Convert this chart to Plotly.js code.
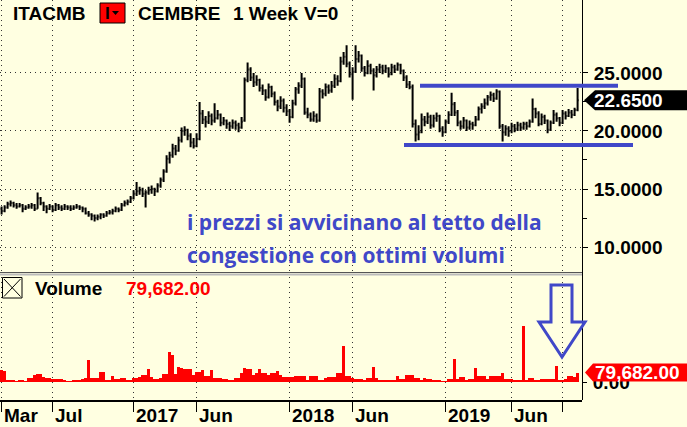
<!DOCTYPE html>
<html><head><meta charset="utf-8">
<script src="https://cdn.plot.ly/plotly-3.0.1.min.js"></script>
<style>html,body{margin:0;padding:0;background:#FFFFE1;}#chart{width:687px;height:427px;}</style>
</head><body><div id="chart"></div>
<script>
// ---------- DATA ----------
const START = '2016-02-29'; // first weekly bar
const OPEN = [13.3,13.1,13.4,13.7,13.8,13.6,13.5,13.6,13.3,13.4,
13.5,13.6,13.3,14.2,13.8,13.5,13.3,13.5,13.2,13.6,
13.4,13.3,13.5,13.4,13.3,13.4,13.5,13.4,13.3,12.9,
12.8,12.7,12.5,12.6,12.8,12.7,12.9,13.0,13.1,13.3,
13.2,13.6,13.8,13.9,14.2,14.6,14.8,14.9,14.6,14.7,
14.9,15.0,14.8,15.3,15.8,16.5,17.6,17.9,18.5,18.3,
19.2,20.0,20.1,19.6,19.0,18.7,19.3,21.5,21.0,20.8,
21.3,20.9,21.1,21.4,20.7,20.9,20.6,20.4,20.7,20.5,
20.3,20.9,24.4,25.3,24.6,24.2,24.4,23.7,23.5,22.9,
23.8,23.2,22.5,22.1,22.6,22.0,21.7,21.2,22.4,23.6,
23.9,24.5,21.6,21.4,21.0,21.3,20.9,23.4,23.2,23.8,
23.5,23.9,24.5,24.3,26.0,26.4,25.8,24.9,25.1,26.2,
26.5,25.4,25.0,25.6,25.2,24.8,25.3,25.5,25.2,25.4,
24.9,25.5,25.3,25.7,25.2,24.6,24.0,23.8,20.6,19.7,
19.9,21.0,20.8,21.2,20.5,21.1,21.3,20.2,19.9,20.8,
21.4,22.3,21.6,20.7,20.4,20.9,20.3,20.6,20.5,21.0,
21.9,22.1,22.4,22.9,23.1,22.8,23.4,20.4,19.9,20.2,
20.0,20.4,20.2,20.5,20.3,20.6,20.4,20.8,21.9,21.5,
20.6,21.2,20.9,20.1,20.7,21.4,21.1,20.7,21.5,21.3,
21.6,21.4,21.8];
const HIGH = [13.5,13.6,13.9,14.0,13.9,13.8,13.8,13.7,13.6,13.7,
13.8,13.7,14.7,14.3,13.9,13.6,13.7,13.6,13.8,13.7,
13.6,13.7,13.6,13.6,13.6,13.7,13.6,13.5,13.4,13.1,
12.9,12.8,12.8,12.9,12.9,13.1,13.2,13.3,13.5,13.4,
13.8,14.0,14.1,14.4,14.9,15.6,15.2,15.1,14.9,15.2,
15.3,15.1,15.5,16.0,16.7,17.9,18.2,18.9,18.8,19.5,
20.3,20.4,20.2,19.8,19.4,19.8,22.5,21.8,21.3,21.7,
21.5,22.4,21.8,21.5,21.2,21.0,20.8,21.0,20.9,20.7,
21.2,24.6,25.9,25.5,25.0,24.8,24.5,24.0,23.6,24.1,
23.9,23.4,22.7,23.0,22.8,22.3,21.9,22.7,23.8,24.2,
25.0,24.6,22.0,21.6,21.7,21.5,23.7,23.6,24.1,24.0,
24.3,24.9,24.8,26.4,26.8,27.4,26.0,25.5,27.4,26.9,
26.6,25.6,26.1,25.8,25.4,25.6,25.8,25.7,25.7,25.5,
25.8,25.7,25.9,25.8,25.3,24.8,24.3,24.0,21.0,20.5,
21.5,21.3,21.6,21.4,21.4,21.6,21.4,20.4,21.0,21.7,
23.3,22.5,21.8,20.9,21.2,21.0,20.9,20.8,21.3,22.1,
22.4,22.8,23.1,23.4,23.3,23.6,23.5,20.6,20.5,20.4,
20.7,20.6,20.8,20.7,20.8,20.8,21.0,22.8,22.0,21.7,
21.5,21.4,21.0,20.9,21.8,21.6,21.2,21.8,21.7,21.9,
21.8,22.0,23.7];
const LOW = [12.8,13.0,13.3,13.5,13.4,13.3,13.4,13.0,13.2,13.3,
13.3,13.1,13.3,13.6,13.1,12.9,13.2,13.0,13.1,13.2,
13.1,13.2,13.2,13.1,13.2,13.3,13.2,13.0,12.8,12.6,
12.3,12.2,12.3,12.4,12.5,12.6,12.8,12.8,13.0,13.0,
13.1,13.5,13.6,13.8,14.1,14.4,14.5,14.3,13.4,14.5,
14.6,14.4,14.7,15.1,15.6,16.4,17.2,17.7,17.9,18.2,
19.0,19.6,19.2,18.6,18.5,18.6,19.2,20.6,20.3,20.6,
20.5,20.7,21.0,20.4,20.5,20.2,20.0,20.2,20.1,19.9,
20.2,20.8,24.2,24.3,23.8,23.9,23.4,23.1,22.6,22.8,
22.9,22.2,21.7,21.9,21.6,21.3,20.7,21.1,22.2,23.2,
23.7,21.4,21.1,20.8,20.8,20.7,20.8,22.8,23.0,23.2,
23.3,23.7,23.9,24.2,25.7,25.5,24.6,22.7,25.0,25.9,
25.1,24.7,24.9,24.9,23.5,24.6,25.0,24.9,25.0,24.6,
24.8,25.0,25.2,24.9,24.3,23.7,23.6,20.3,19.1,19.2,
19.8,20.4,20.6,20.2,20.3,20.8,19.9,19.5,19.8,20.6,
21.3,21.3,20.4,20.1,20.2,20.0,20.1,20.1,20.4,20.9,
21.5,21.9,22.2,22.6,22.5,22.7,20.2,19.1,19.6,19.5,
19.8,19.9,20.0,20.0,20.1,20.1,20.3,20.7,21.1,20.4,
20.5,20.6,19.8,20.0,20.6,20.8,20.4,20.6,21.0,21.2,
21.1,21.3,21.7];
const CLOSE = [13.1,13.4,13.7,13.8,13.6,13.5,13.6,13.3,13.4,13.5,
13.6,13.3,14.2,13.8,13.5,13.3,13.5,13.2,13.6,13.4,
13.3,13.5,13.4,13.3,13.4,13.5,13.4,13.3,12.9,12.8,
12.7,12.5,12.6,12.8,12.7,12.9,13.0,13.1,13.3,13.2,
13.6,13.8,13.9,14.2,14.6,14.8,14.9,14.6,14.7,14.9,
15.0,14.8,15.3,15.8,16.5,17.6,17.9,18.5,18.3,19.2,
20.0,20.1,19.6,19.0,18.7,19.3,21.5,21.0,20.8,21.3,
20.9,21.1,21.4,20.7,20.9,20.6,20.4,20.7,20.5,20.3,
20.8,24.4,25.3,24.6,24.2,24.4,23.7,23.5,22.9,23.8,
23.2,22.5,22.1,22.6,22.0,21.7,21.2,22.4,23.6,23.9,
24.5,21.6,21.4,21.0,21.3,20.9,23.4,23.2,23.8,23.5,
23.9,24.5,24.3,26.0,26.4,25.8,24.9,25.1,26.2,26.5,
25.4,25.0,25.6,25.2,24.8,25.3,25.5,25.2,25.4,24.9,
25.5,25.3,25.7,25.2,24.6,24.0,23.8,20.6,19.7,19.9,
21.0,20.8,21.2,20.5,21.1,21.3,20.2,19.9,20.8,21.4,
22.3,21.6,20.7,20.4,20.9,20.3,20.6,20.5,21.0,21.9,
22.1,22.4,22.9,23.1,22.8,23.4,20.4,19.9,20.2,20.0,
20.4,20.2,20.5,20.3,20.6,20.4,20.8,21.9,21.5,20.6,
21.2,20.9,20.1,20.7,21.4,21.1,20.7,21.5,21.3,21.6,
21.4,21.8,22.65];
const VOLUME = [98000,96000,14000,13000,14000,12000,20000,20000,8000,34000,
34000,56000,64000,64000,42000,31000,31000,22000,22000,22000,
22000,14000,8000,8000,14000,14000,14000,22000,30000,182000,
31000,31000,31000,81000,81000,14000,14000,48000,25000,25000,
31000,31000,14000,14000,31000,31000,39000,56000,56000,106000,
39000,25000,25000,31000,64000,64000,250000,224000,67000,123000,
117000,112000,106000,106000,56000,81000,81000,98000,53000,53000,
98000,36000,36000,36000,22000,22000,14000,14000,34000,34000,
76000,115000,106000,106000,56000,76000,106000,76000,76000,56000,
76000,76000,92000,56000,39000,39000,39000,39000,48000,48000,
48000,48000,14000,48000,48000,48000,14000,14000,31000,39000,
39000,39000,76000,76000,302000,48000,48000,36000,28000,28000,
28000,14000,31000,31000,123000,31000,14000,14000,14000,20000,
20000,20000,48000,25000,25000,56000,56000,56000,34000,34000,
14000,31000,25000,25000,14000,14000,14000,8000,8000,25000,
25000,190000,28000,39000,39000,14000,25000,25000,115000,48000,
48000,53000,28000,53000,53000,53000,53000,76000,22000,22000,
22000,14000,14000,14000,467000,14000,31000,31000,20000,20000,
22000,22000,22000,22000,22000,134000,14000,14000,25000,48000,
48000,40000,79682];
const TICK_DATES = ['2016-02-29','2016-06-27','2017-01-02','2017-05-29','2018-01-01','2018-05-28','2018-12-31','2019-06-03','2019-09-30'];
const TICK_LABELS = ['Mar','Jul','2017','Jun','2018','Jun','2019','Jun',''];
const PRICE_TICKS = [10, 15, 20, 25];
const PRICE_MINOR = [12.5, 17.5, 22.5];
const RESISTANCE = 23.9;
const SUPPORT = 18.8;
const TICKER = 'ITACMB', NAME = 'CEMBRE', PERIOD = '1 Week', VFLAG = 'V=0';
const NOTE = ['i prezzi si avvicinano al tetto della', 'congestione con ottimi volumi'];

// ---------- LAYOUT HELPERS ----------
const W = 687, H = 427;
const BG = '#FFFFE1', BLUE = '#4048C8', RED = '#FF0000';
const FONT = 'Liberation Sans, Arial, sans-serif';
const NOTE_FONT = {family: 'Open Sans, sans-serif', size: 21, color: BLUE, weight: 'bold'};
const px = x => x / W, py = y => 1 - y / H;
const WEEK = 7 * 864e5;
const t0 = Date.parse(START + 'T00:00:00Z');
const fmt = ms => new Date(ms).toISOString().slice(0, 19).replace('T', ' ');
const dates = CLOSE.map((_, i) => fmt(t0 + i * WEEK).slice(0, 10));
const xRange = [fmt(t0 - 0.533 * WEEK), fmt(t0 + 193.47 * WEEK)];
const PR = [7.76, 31.29], PD = [py(273), py(0)];
const VR = [-151200, 882000], VD = [py(400), py(277)];
const priceToPx = v => (1 - (PD[0] + (v - PR[0]) / (PR[1] - PR[0]) * (PD[1] - PD[0]))) * H;
const volToPx = v => (1 - (VD[0] + (v - VR[0]) / (VR[1] - VR[0]) * (VD[1] - VD[0]))) * H;
const path = pts => 'M' + pts.map(([x, y]) => px(x) + ',' + py(y)).join('L') + 'Z';
const bold = (size, color) => ({family: FONT, size: size, color: color || '#000', weight: 'bold'});
const grid = {showgrid: true, gridcolor: '#333', gridwidth: 1, griddash: '1px,4px'};

const lastClose = CLOSE[CLOSE.length - 1];
const lastVol = VOLUME[VOLUME.length - 1];
const volText = lastVol.toLocaleString('en-US', {minimumFractionDigits: 2, maximumFractionDigits: 2});

const traces = [
  {type: 'ohlc', x: dates, open: OPEN, high: HIGH, low: LOW, close: CLOSE, xaxis: 'x', yaxis: 'y',
   increasing: {line: {color: '#000', width: 2}}, decreasing: {line: {color: '#000', width: 2}},
   tickwidth: 0.4, hoverinfo: 'skip'},
  {type: 'bar', x: dates, y: VOLUME, xaxis: 'x', yaxis: 'y2',
   marker: {color: RED, line: {width: 0}}, hoverinfo: 'skip'}
];

const pc = priceToPx(lastClose), vc = volToPx(lastVol);
const rY = priceToPx(RESISTANCE), sY = priceToPx(SUPPORT);

const shapes = [
  {type: 'line', xref: 'paper', yref: 'paper', x0: 0, x1: px(582), y0: py(272.5), y1: py(272.5), line: {color: '#555', width: 1}},
  {type: 'line', xref: 'paper', yref: 'paper', x0: 0, x1: px(582), y0: py(274.5), y1: py(274.5), line: {color: '#bbb', width: 2}},
  {type: 'line', xref: 'paper', yref: 'paper', x0: px(582.5), x1: px(582.5), y0: py(0), y1: py(400), line: {color: '#000', width: 1}},
  {type: 'rect', xref: 'paper', yref: 'paper', x0: px(100), x1: px(125), y0: py(3), y1: py(23), fillcolor: RED, line: {color: '#000', width: 1}},
  {type: 'path', xref: 'paper', yref: 'paper', path: path([[112, 11], [119, 11], [115.5, 15]]), fillcolor: '#000', line: {width: 0}},
  {type: 'rect', xref: 'paper', yref: 'paper', x0: px(2.5), x1: px(22), y0: py(277.5), y1: py(298), fillcolor: 'rgba(0,0,0,0)', line: {color: '#000', width: 1}},
  {type: 'line', xref: 'paper', yref: 'paper', x0: px(4), x1: px(20.5), y0: py(279), y1: py(296.5), line: {color: '#000', width: 1}},
  {type: 'line', xref: 'paper', yref: 'paper', x0: px(20.5), x1: px(4), y0: py(279), y1: py(296.5), line: {color: '#000', width: 1}},
  {type: 'line', xref: 'paper', yref: 'paper', x0: px(420), x1: px(618), y0: py(rY), y1: py(rY), line: {color: BLUE, width: 4}},
  {type: 'line', xref: 'paper', yref: 'paper', x0: px(404), x1: px(633), y0: py(sY), y1: py(sY), line: {color: BLUE, width: 4}},
  {type: 'path', xref: 'paper', yref: 'paper', path: path([[551, 285], [572, 285], [572, 322], [585, 322], [562, 357], [539, 322], [551, 322]]), fillcolor: 'rgba(0,0,0,0)', line: {color: BLUE, width: 3}},
  {type: 'path', xref: 'paper', yref: 'paper', path: path([[584, pc], [595, pc - 10], [687, pc - 10], [687, pc + 10], [595, pc + 10]]), fillcolor: '#000', line: {width: 0}},
  {type: 'path', xref: 'paper', yref: 'paper', path: path([[585, vc], [593, vc - 9], [687, vc - 9], [687, vc + 9], [593, vc + 9]]), fillcolor: RED, line: {width: 0}}
];

const ann = (x, y, text, font, extra) => Object.assign({xref: 'paper', yref: 'paper', x: px(x), y: py(y), text: text, showarrow: false, xanchor: 'left', yanchor: 'middle', font: font}, extra || {});
const annotations = [
  ann(11, 13, TICKER, bold(19)),
  ann(103, 13, 'I', bold(17)),
  ann(136, 13, NAME, bold(19)),
  ann(231, 13, PERIOD, bold(19)),
  ann(302, 13, VFLAG, bold(19)),
  ann(33, 288, 'Volume', bold(19)),
  ann(124, 288, volText, bold(19, RED)),
  ann(592, pc, lastClose.toFixed(4), bold(19, '#fff')),
  ann(593, vc, volText, bold(19, '#fff')),
  ann(185, 222, NOTE[0], NOTE_FONT),
  ann(185, 255, NOTE[1], NOTE_FONT)
].concat(TICK_DATES.map((d, i) => ({xref: 'x', yref: 'paper', x: d, y: py(415), text: TICK_LABELS[i], showarrow: false,
  xanchor: 'left', yanchor: 'middle', xshift: 0, font: bold(19)})));

const layout = {
  width: W, height: H, margin: {l: 0, r: 0, t: 0, b: 0, pad: 0},
  paper_bgcolor: BG, plot_bgcolor: BG, showlegend: false, hovermode: false, bargap: 0,
  font: {family: FONT, size: 18, color: '#000'},
  xaxis: Object.assign({type: 'date', domain: [0, px(582)], range: xRange, anchor: 'y2',
    tickmode: 'array', tickvals: TICK_DATES, showticklabels: false, ticks: 'outside', ticklen: 10,
    tickcolor: '#000', tickwidth: 1, showline: true, linecolor: '#000', linewidth: 1.5,
    zeroline: false, rangeslider: {visible: false}, fixedrange: true}, grid),
  yaxis: Object.assign({domain: PD, range: PR, anchor: 'x', side: 'right', tickmode: 'array',
    tickvals: PRICE_TICKS, ticktext: PRICE_TICKS.map(v => v.toFixed(4)), ticks: 'outside', ticklen: 5,
    tickcolor: '#000', showline: false, zeroline: false, tickfont: bold(19), ticklabelstandoff: 2,
    minor: {tickmode: 'array', tickvals: PRICE_MINOR, ticks: 'outside', ticklen: 4, tickcolor: '#000', showgrid: false},
    fixedrange: true}, grid),
  yaxis2: {domain: VD, range: VR, anchor: 'x', side: 'right', tickmode: 'array', tickvals: [0],
    ticktext: ['0.00'], ticks: 'outside', ticklen: 4, tickcolor: '#000', showline: false,
    showgrid: false, zeroline: false, tickfont: bold(19), ticklabelstandoff: 2, fixedrange: true},
  shapes: shapes,
  annotations: annotations
};

Plotly.newPlot('chart', traces, layout, {staticPlot: true, displayModeBar: false});
</script>
</body></html>
